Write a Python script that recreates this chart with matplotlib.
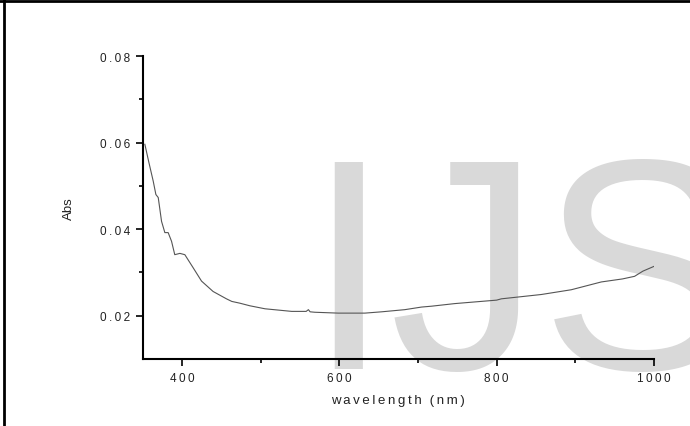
import matplotlib
matplotlib.use("Agg")
import matplotlib.pyplot as plt
from matplotlib.lines import Line2D
from matplotlib.ticker import FixedLocator, FuncFormatter

wavelength = [353, 358, 363.6, 367, 370, 374.2, 378.4, 382.6, 386.9, 391, 397.5,
              403.8, 414.3, 425, 439.7, 456.7, 463.5, 473.6, 486.3, 505.7, 539.6,
              558, 560.8, 563, 569, 598.8, 632.6, 653.8, 683.4, 704.6, 717.3,
              746.8, 780, 800, 806, 856.8, 894.9, 933, 960, 975.3, 985.9, 1000]
absorbance = [0.0596, 0.0555, 0.0511, 0.0480, 0.0473, 0.0418, 0.0392, 0.0392,
              0.0372, 0.0341, 0.0344, 0.0341, 0.0311, 0.0280, 0.0256, 0.0239,
              0.0233, 0.0229, 0.0223, 0.0216, 0.0210, 0.0210, 0.0214, 0.0209,
              0.0208, 0.0206, 0.0206, 0.0209, 0.0214, 0.0220, 0.0222, 0.0228,
              0.0233, 0.0236, 0.0239, 0.0249, 0.0260, 0.0278, 0.0285, 0.0291,
              0.0303, 0.0314]

x_major = [400, 600, 800, 1000]
x_minor = [500, 700, 900]
y_major = [0.02, 0.04, 0.06, 0.08]
y_minor = [0.03, 0.05, 0.07]

FONT = ["Liberation Sans", "DejaVu Sans"]
SP = "\u2009"

def spaced(s):
    return SP.join(list(s))

fig = plt.figure(figsize=(6.9, 4.27), dpi=100)

# watermark (behind everything)
fig.text(306 / 690, 1 - 369 / 427, "IJS", fontsize=217, color="#d9d9d9",
         family=FONT, ha="left", va="baseline", zorder=-10)

ax = fig.add_axes([142.5 / 690, 1 - 360 / 427, 511.5 / 690, 303 / 427])
ax.patch.set_alpha(0)
ax.plot(wavelength, absorbance, color="#555555", lw=0.8)

ax.set_xlim(350, 1000)
ax.set_ylim(0.01, 0.08)
ax.xaxis.set_major_locator(FixedLocator(x_major))
ax.xaxis.set_minor_locator(FixedLocator(x_minor))
ax.yaxis.set_major_locator(FixedLocator(y_major))
ax.yaxis.set_minor_locator(FixedLocator(y_minor))
ax.xaxis.set_major_formatter(FuncFormatter(lambda v, p: spaced(f"{v:.0f}")))
ax.yaxis.set_major_formatter(FuncFormatter(lambda v, p: spaced(f"{v:.2f}")))

for s in ["top", "right"]:
    ax.spines[s].set_visible(False)
for s in ["left", "bottom"]:
    ax.spines[s].set_linewidth(1.5)
    ax.spines[s].set_color("black")

ax.tick_params(which="major", direction="out", length=5, width=1.2,
               labelsize=8.5, labelcolor="#222222", pad=4)
ax.tick_params(which="minor", direction="out", length=3, width=1.2)
for lab in ax.get_xticklabels() + ax.get_yticklabels():
    lab.set_family(FONT)

ax.set_xlabel(spaced("wavelength") + SP * 3 + spaced("(nm)"), fontsize=9.5,
              family=FONT, color="#222222", labelpad=7.5)
ax.set_ylabel("Abs", fontsize=9.5, family=FONT, color="#222222", labelpad=18)

# frame lines (top and left)
fig.add_artist(Line2D([0, 1], [1 - 2 / 427, 1 - 2 / 427], color="black", lw=2,
                      transform=fig.transFigure))
fig.add_artist(Line2D([4 / 690, 4 / 690], [0, 1 - 1 / 427], color="black", lw=2,
                      transform=fig.transFigure))

fig.savefig("out.png", dpi=100)
